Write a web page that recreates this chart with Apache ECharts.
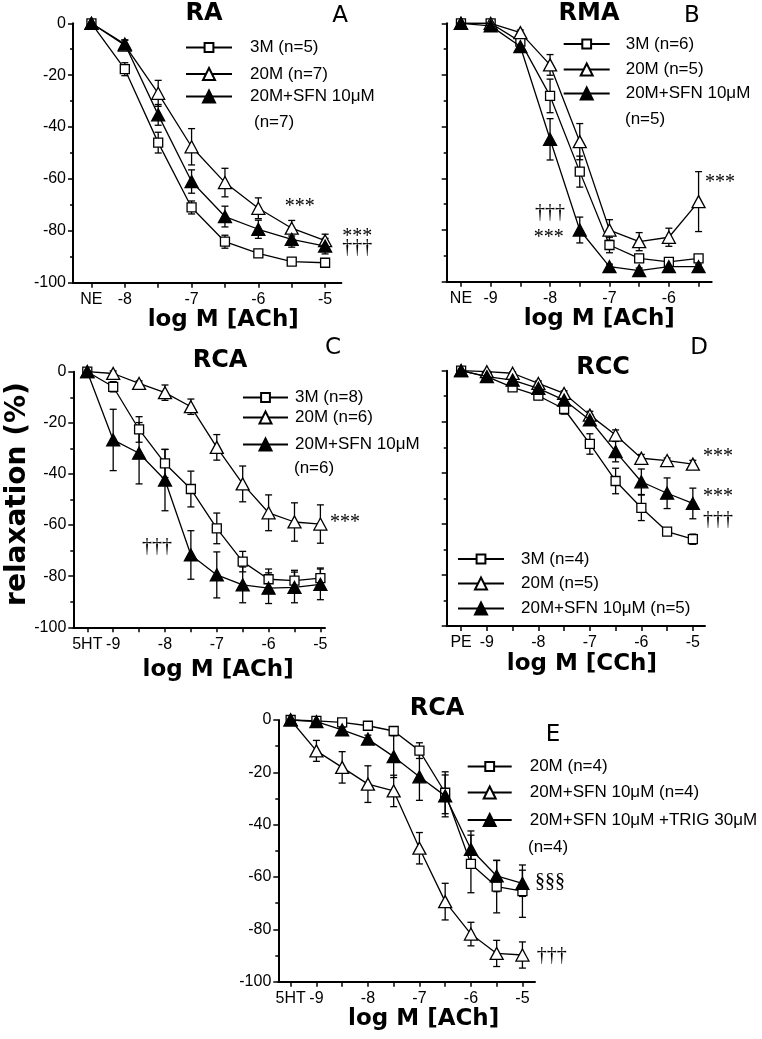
<!DOCTYPE html>
<html>
<head>
<meta charset="utf-8">
<script src="https://cdn.jsdelivr.net/npm/echarts@6/dist/echarts.min.js"></script>
<style>html,body{margin:0;padding:0;background:#fff}#c{width:762px;height:1039px}</style>
</head>
<body>
<div id="c"></div>
<script>
// ---------- Panel A : RA ----------
var xA = [-8.5, -8, -7.5, -7, -6.5, -6, -5.5, -5];
var A_3M = [0, -17.7, -46, -71, -84.2, -88.7, -91.9, -92.3];
var A_3M_err = [0, 2.5, 4, 2.5, 2.5, 1.5, 1, 1.2];
var A_20M = [0, -8.4, -27, -47.6, -61.4, -71.3, -79, -83.8];
var A_20M_err = [0, 2, 5, 7, 5.5, 4, 3, 2.5];
var A_SFN = [0, -8, -35.3, -61, -74.5, -79.4, -83.3, -85.9];
var A_SFN_err = [0, 1.5, 4, 4.5, 4, 3.5, 3, 3];
var A_ticks = [-8.5, -8, -7.5, -7, -6.5, -6, -5.5, -5];
var A_labVals = [-8.5, -8, -7, -6, -5];
var A_labTxt = ['NE', '-8', '-7', '-6', '-5'];
var A_ann = [[-5.38, -70.8, '***'], [-4.52, -82.4, '***'], [-4.52, -86.6, '†††']];

// ---------- Panel B : RMA ----------
var xB = [-9.5, -9, -8.5, -8, -7.5, -7, -6.5, -6, -5.5];
var B_3M = [0, 0, -7.1, -28.1, -57.4, -85.8, -91, -92.3, -91];
var B_3M_err = [0, 0.5, 1.5, 6.5, 6, 3, 1.5, 1, 1];
var B_20M = [0, 0, -3.6, -16.1, -45.8, -80, -84.5, -82.8, -69];
var B_20M_err = [0, 0.5, 1, 4, 7, 4, 3.5, 3.5, 11.6];
var B_SFN = [0, -1, -9, -44.9, -80, -94.2, -95.7, -94.2, -94.2];
var B_SFN_err = [0, 0.5, 2, 8, 5, 1, 1, 1, 1];
var B_ticks = [-9.5, -9, -8.5, -8, -7.5, -7, -6.5, -6, -5.5];
var B_labVals = [-9.5, -9, -8, -7, -6];
var B_labTxt = ['NE', '-9', '-8', '-7', '-6'];
var B_ann = [[-5.14, -61.8, '***'], [-8.0, -73.4, '†††'], [-8.02, -83.1, '***']];

// ---------- Panel C : RCA ----------
var xC = [-9.5, -9, -8.5, -8, -7.5, -7, -6.5, -6, -5.5, -5];
var C_3M = [0, -5.9, -22.6, -35.9, -45.9, -61.3, -74.3, -81.2, -81.7, -80.8];
var C_3M_err = [1.5, 2, 5, 5.5, 7, 6, 4, 4, 4, 4];
var C_20M = [0, -0.7, -4.6, -8.2, -13.7, -29.6, -43.9, -55.2, -58.8, -59.6];
var C_20M_err = [0, 1, 1, 3, 3, 5, 7, 7, 7.5, 7.5];
var C_SFN = [0, -26.7, -31.9, -42.4, -71.7, -79.5, -83.4, -84.7, -84.4, -83.2];
var C_SFN_err = [0, 12, 12, 12, 9.5, 9, 7, 6, 6, 6];
var C_ticks = [-9.5, -9, -8.5, -8, -7.5, -7, -6.5, -6, -5.5, -5];
var C_labVals = [-9.5, -9, -8, -7, -6, -5];
var C_labTxt = ['5HT', '-9', '-8', '-7', '-6', '-5'];
var C_ann = [[-4.525, -59.2, '***'], [-8.154, -68.6, '†††']];

// ---------- Panel D : RCC ----------
var xD = [-9.5, -9, -8.5, -8, -7.5, -7, -6.5, -6, -5.5, -5];
var D_3M = [0, -2.3, -6.5, -9.8, -15, -28.7, -43.2, -53.7, -63, -66];
var D_3M_err = [0, 0.5, 1, 1.5, 2, 4, 5, 5, 1, 2];
var D_20M = [0, -0.4, -1, -5, -8.9, -17.4, -25.2, -34.3, -35.2, -36.6];
var D_20M_err = [0, 0.5, 0.5, 1, 1, 1.5, 2, 1.5, 1, 1.5];
var D_SFN = [0, -2.3, -3.7, -6.9, -11.5, -19.3, -31.7, -43.5, -48, -52];
var D_SFN_err = [0, 0.5, 1, 1.5, 1.5, 2, 4, 5, 6, 6];
var D_ticks = [-9.5, -9, -8.5, -8, -7.5, -7, -6.5, -6, -5.5, -5];
var D_labVals = [-9.5, -9, -8, -7, -6, -5];
var D_labTxt = ['PE', '-9', '-8', '-7', '-6', '-5'];
var D_ann = [[-4.512, -33.8, '***'], [-4.512, -49.5, '***'], [-4.512, -58.5, '†††']];

// ---------- Panel E : RCA ----------
var xE = [-9.5, -9, -8.5, -8, -7.5, -7, -6.5, -6, -5.5, -5];
var E_20M = [0, -0.3, -0.9, -2.2, -4.2, -11.7, -27.8, -55, -63.7, -65.4];
var E_20M_err = [0, 0.5, 0.8, 1, 1, 3, 8, 11, 10, 10];
var E_SFN = [0, -11.8, -18.1, -24.5, -27.1, -49, -69.4, -81.8, -89.2, -89.8];
var E_SFN_err = [0, 4, 6, 7, 6, 6, 7, 4.5, 5, 5];
var E_TRIG = [0, -0.6, -3.8, -7.3, -14, -21.7, -29, -49.4, -59.6, -62.4];
var E_TRIG_err = [0, 0.5, 1, 1.5, 8, 9, 8, 7, 6, 5];
var E_ticks = [-9.5, -9, -8.5, -8, -7.5, -7, -6.5, -6, -5.5, -5];
var E_labVals = [-9.5, -9, -8, -7, -6, -5];
var E_labTxt = ['5HT', '-9', '-8', '-7', '-6', '-5'];
var E_ann = [[-4.464, -61.9, '§§§'], [-4.43, -90.2, '†††']];

var yTickLabels = [0, -20, -40, -60, -80, -100];

// ---------- layout (pixels) ----------
var panels = [
  {grid:{left:73, top:23.3, width:268.4, height:259.4}, xmin:-8.776, xmax:-4.756, ylab:true, xname:'log M [ACh]', nameGap:25, shift:16,
   ticks:A_ticks, labVals:A_labVals, labTxt:A_labTxt, ann:A_ann,
   series:[['A3','3M (n=5)','sq',xA,A_3M,A_3M_err],['A20','20M (n=7)','open',xA,A_20M,A_20M_err],['AS','20M+SFN 10μM','fill',xA,A_SFN,A_SFN_err]],
   legend:{left:185, w:46, gap:18, rows:[49,75.5,98]}, extra:{x:254, y:122, t:'(n=7)'},
   title:{t:'RA', x:204, y:14}, letter:{t:'A', x:340, y:16}},
  {grid:{left:446.7, top:23.3, width:265, height:258.4}, xmin:-9.74, xmax:-5.279, ylab:false, xname:'log M [ACh]', nameGap:24, shift:20,
   ticks:B_ticks, labVals:B_labVals, labTxt:B_labTxt, ann:B_ann,
   series:[['B3','3M (n=6)','sq',xB,B_3M,B_3M_err],['B20','20M (n=5)','open',xB,B_20M,B_20M_err],['BS','20M+SFN 10μM','fill',xB,B_SFN,B_SFN_err]],
   legend:{left:562.7, w:46, gap:16, rows:[45.5,71,95]}, extra:{x:625, y:119, t:'(n=5)'},
   title:{t:'RMA', x:589, y:14}, letter:{t:'B', x:692, y:16}},
  {grid:{left:73.3, top:371.7, width:251.7, height:255.6}, xmin:-9.77, xmax:-4.911, ylab:true, xname:'log M [ACh]', nameGap:31, shift:19,
   ticks:C_ticks, labVals:C_labVals, labTxt:C_labTxt, ann:C_ann,
   series:[['C3','3M (n=8)','sq',xC,C_3M,C_3M_err],['C20','20M (n=6)','open',xC,C_20M,C_20M_err],['CS','20M+SFN 10μM','fill',xC,C_SFN,C_SFN_err]],
   legend:{left:242, w:45, gap:7, rows:[399,419,446]}, extra:{x:294, y:468, t:'(n=6)'},
   title:{t:'RCA', x:220, y:361}, letter:{t:'C', x:333, y:348}},
  {grid:{left:446.7, top:370.7, width:258.3, height:255.3}, xmin:-9.78, xmax:-4.764, ylab:false, xname:'log M [CCh]', nameGap:27, shift:6,
   ticks:D_ticks, labVals:D_labVals, labTxt:D_labTxt, ann:D_ann,
   series:[['D3','3M (n=4)','sq',xD,D_3M,D_3M_err],['D20','20M (n=5)','open',xD,D_20M,D_20M_err],['DS','20M+SFN 10μM (n=5)','fill',xD,D_SFN,D_SFN_err]],
   legend:{left:457, w:46, gap:17, rows:[560.5,585,610]}, extra:null,
   title:{t:'RCC', x:603, y:368}, letter:{t:'D', x:699, y:348}},
  {grid:{left:278.3, top:720, width:256.7, height:261.7}, xmin:-9.74, xmax:-4.756, ylab:true, xname:'log M [ACh]', nameGap:24, shift:17,
   ticks:E_ticks, labVals:E_labVals, labTxt:E_labTxt, ann:E_ann,
   series:[['E20','20M (n=4)','sq',xE,E_20M,E_20M_err],['ES','20M+SFN 10μM (n=4)','open',xE,E_SFN,E_SFN_err],['ET','20M+SFN 10μM +TRIG 30μM','fill',xE,E_TRIG,E_TRIG_err]],
   legend:{left:466.7, w:44, gap:18, rows:[768,794,821.5]}, extra:{x:528, y:847, t:'(n=4)'},
   title:{t:'RCA', x:437, y:709}, letter:{t:'E', x:553, y:735}}
];

var FONT = 'Liberation Sans, Arial, sans-serif';
var BOLD = 'DejaVu Sans, sans-serif';
var grids = [], xAxes = [], yAxes = [], series = [], legends = [], graphics = [];
var labelOf = {};

function symbolCfg(kind) {
  if (kind === 'sq') return {symbol:'rect', size:9, fill:'#fff', lh:11};
  if (kind === 'open') return {symbol:'triangle', size:[13,12], fill:'#fff', lh:15};
  return {symbol:'triangle', size:[13,12], fill:'#000', lh:15};
}

panels.forEach(function (p, gi) {
  grids.push(Object.assign({outerBoundsMode:'none', containLabel:false}, p.grid));
  (function (labVals, labTxt) {
    xAxes.push({
      type:'value', gridIndex:gi, min:p.xmin, max:p.xmax,
      axisLine:{show:true, onZero:false, lineStyle:{color:'#000', width:2}},
      axisTick:{show:true, length:5, customValues:p.ticks, lineStyle:{color:'#000', width:1.5}},
      axisLabel:{show:true, customValues:labVals, margin:9, color:'#000', fontSize:16, fontFamily:FONT,
        formatter:function (v) { for (var i=0;i<labVals.length;i++) if (Math.abs(labVals[i]-v)<1e-6) return labTxt[i]; return ''; }},
      splitLine:{show:false},
      name:p.xname, nameLocation:'middle', nameGap:p.nameGap,
      nameTextStyle:{color:'#000', fontSize:23, fontWeight:'bold', fontFamily:BOLD, padding:[0,0,0,2*p.shift]}
    });
  })(p.labVals, p.labTxt);
  yAxes.push({
    type:'value', gridIndex:gi, min:-100, max:0, interval:20,
    axisLine:{show:true, onZero:false, lineStyle:{color:'#000', width:2}},
    axisTick:{show:true, length:5, lineStyle:{color:'#000', width:1.5}},
    minorTick:{show:true, splitNumber:2, length:3, lineStyle:{color:'#000', width:1.5}},
    axisLabel:{show:p.ylab, margin:7, color:'#000', fontSize:16, fontFamily:FONT,
      formatter:function (v) { return yTickLabels.indexOf(v) >= 0 ? String(v) : ''; }},
    splitLine:{show:false}, minorSplitLine:{show:false}
  });

  p.series.forEach(function (s, si) {
    var id = s[0], label = s[1], kind = s[2], xs = s[3], ys = s[4], es = s[5];
    var sc = symbolCfg(kind);
    labelOf[id] = label;
    // error bars
    series.push({
      type:'custom', name:id + '_err', xAxisIndex:gi, yAxisIndex:gi, clip:false, silent:true, z:1,
      data: xs.map(function (x, i) { return [x, ys[i], es[i]]; }),
      renderItem: function (params, api) {
        var x = api.value(0), y = api.value(1), e = api.value(2);
        if (!e) return null;
        var t = api.coord([x, y + e]), b = api.coord([x, y - e]);
        var cw = 3.5, st = {stroke:'#000', lineWidth:1.3};
        return {type:'group', children:[
          {type:'line', shape:{x1:t[0], y1:t[1], x2:b[0], y2:b[1]}, style:st},
          {type:'line', shape:{x1:t[0]-cw, y1:t[1], x2:t[0]+cw, y2:t[1]}, style:st},
          {type:'line', shape:{x1:b[0]-cw, y1:b[1], x2:b[0]+cw, y2:b[1]}, style:st}
        ]};
      }
    });
    series.push({
      type:'line', name:id, xAxisIndex:gi, yAxisIndex:gi, clip:false, z:3 + si,
      data: xs.map(function (x, i) { return [x, ys[i]]; }),
      symbol:sc.symbol, symbolSize:sc.size, showSymbol:true, showAllSymbol:true,
      lineStyle:{color:'#000', width:1.3},
      itemStyle:{color:sc.fill, borderColor:'#000', borderWidth:1.3},
      emphasis:{disabled:true}
    });
    var lg = p.legend;
    legends.push({
      data:[id], left:lg.left, top:lg.rows[si] - 10, itemWidth:lg.w, itemHeight:sc.lh, padding:0,
      selectedMode:false, orient:'horizontal',
      formatter:function (n) { return '{t|' + labelOf[n] + '}'; },
      textStyle:{rich:{t:{fontSize:17, fontFamily:FONT, color:'#000', padding:[0,0,0,lg.gap-5]}}}
    });
  });

  // annotations
  series.push({
    type:'scatter', name:'ann' + gi, xAxisIndex:gi, yAxisIndex:gi, clip:false, silent:true, symbolSize:0, z:6,
    itemStyle:{opacity:1, color:'#000'},
    data: p.ann.map(function (a) { return {value:[a[0], a[1]], label:{formatter:a[2]}}; }),
    label:{show:true, position:'inside', color:'#000', opacity:1, fontSize:20, fontFamily:'Liberation Serif, Times New Roman, serif'}
  });

  graphics.push({type:'text', x:p.title.x, y:p.title.y, style:{text:p.title.t, font:'bold 24px ' + BOLD, fill:'#000', textAlign:'center', textVerticalAlign:'middle'}});
  graphics.push({type:'text', x:p.letter.x, y:p.letter.y, style:{text:p.letter.t, font:'23px ' + BOLD, fill:'#000', textAlign:'center', textVerticalAlign:'middle'}});
  if (p.extra) graphics.push({type:'text', x:p.extra.x, y:p.extra.y, style:{text:p.extra.t, font:'17px ' + FONT, fill:'#000', textAlign:'left', textVerticalAlign:'middle'}});
});

graphics.push({type:'text', x:18, y:494, rotation:Math.PI/2, style:{text:'relaxation (%)', font:'bold 28px ' + BOLD, fill:'#000', textAlign:'center', textVerticalAlign:'middle'}});

var chart = echarts.init(document.getElementById('c'), null, {renderer:'canvas'});
chart.setOption({
  animation:false,
  backgroundColor:'#fff',
  grid:grids, xAxis:xAxes, yAxis:yAxes, series:series, legend:legends, graphic:graphics
});
</script>
</body>
</html>
